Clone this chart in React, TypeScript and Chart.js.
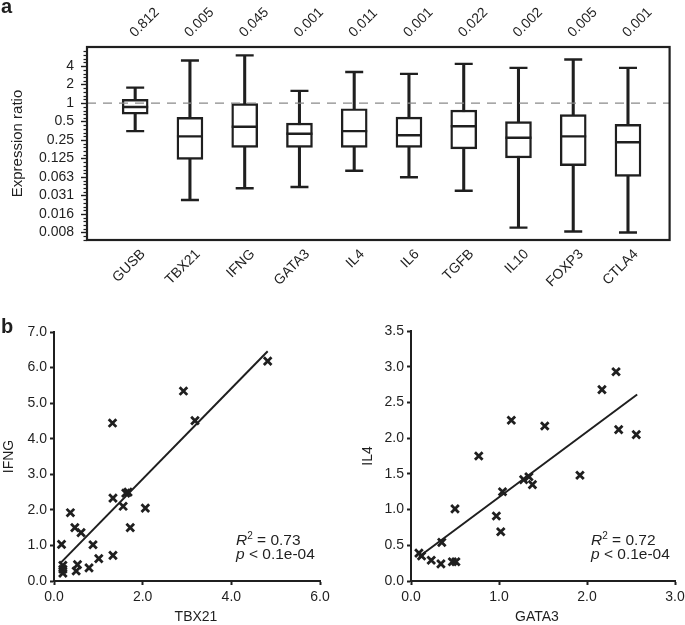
import React, { useEffect, useRef } from 'react';
import { Chart, registerables } from 'chart.js';

Chart.register(...registerables);

const FONT = "'Liberation Sans', Arial, Helvetica, sans-serif";
const INK = '#1f1f1f';
Chart.defaults.font.family = FONT;
Chart.defaults.color = INK;

// ---------- Panel a data ----------
const categories = ['GUSB', 'TBX21', 'IFNG', 'GATA3', 'IL4', 'IL6', 'TGFB', 'IL10', 'FOXP3', 'CTLA4'];
const pValues = ['0.812', '0.005', '0.045', '0.001', '0.011', '0.001', '0.022', '0.002', '0.005', '0.001'];
const whiskerHigh = [1.79, 4.95, 5.98, 1.58, 3.22, 2.99, 4.36, 3.75, 5.14, 3.75];
const quartile3 = [1.15, 0.586, 0.98, 0.473, 0.81, 0.59, 0.77, 0.5, 0.65, 0.45];
const medians = [0.863, 0.287, 0.413, 0.317, 0.35, 0.3, 0.42, 0.273, 0.287, 0.231];
const quartile1 = [0.663, 0.121, 0.19, 0.19, 0.19, 0.19, 0.18, 0.128, 0.096, 0.064];
const whiskerLow = [0.35, 0.0264, 0.041, 0.043, 0.079, 0.062, 0.0375, 0.0094, 0.0081, 0.0078];
const logTickValues = [4, 2, 1, 0.5, 0.25, 0.125, 0.0625, 0.03125, 0.015625, 0.0078125];
const logTickLabels = ['4', '2', '1', '0.5', '0.25', '0.125', '0.063', '0.031', '0.016', '0.008'];
const referenceRatio = 1;

// ---------- Panel b data ----------
const tbx21 = [4.82, 2.92, 3.18, 1.32, 1.67, 1.62, 1.33, 1.56, 2.06, 0.37, 0.47, 0.61, 1.72, 0.17, 0.88, 1.01, 1.33, 0.79, 0.53, 0.5, 0.2, 0.2, 0.2];
const ifng = [6.18, 5.34, 4.51, 4.44, 2.5, 2.47, 2.33, 2.1, 2.05, 1.92, 1.5, 1.36, 1.5, 1.03, 1.02, 0.63, 0.72, 0.37, 0.46, 0.28, 0.44, 0.33, 0.22];
const fitLeftX = [0.15, 4.82];
const fitLeftY = [0.51, 6.46];
const leftXTicks = [0, 2, 4, 6];
const leftYTicks = [0, 1, 2, 3, 4, 5, 6, 7];

const gata3 = [2.33, 2.17, 1.14, 1.52, 2.36, 2.56, 0.77, 1.92, 1.28, 1.34, 1.38, 1.04, 0.5, 0.97, 1.02, 0.35, 0.09, 0.12, 0.23, 0.34, 0.47, 0.51];
const il4 = [2.93, 2.68, 2.25, 2.17, 2.12, 2.05, 1.75, 1.48, 1.42, 1.46, 1.35, 1.25, 1.01, 0.91, 0.69, 0.54, 0.39, 0.35, 0.29, 0.24, 0.27, 0.27];
const fitRightX = [0.09, 2.57];
const fitRightY = [0.34, 2.61];
const rightXTicks = [0, 1, 2, 3];
const rightYTicks = [0, 0.5, 1, 1.5, 2, 2.5, 3, 3.5];

// ---------- Panel a chart ----------
const A_W = 685;
const A_H = 300;
const X_MIN = -0.88;
const X_MAX = 9.76;
const Y_MIN = 0.0059;
const Y_MAX = 8.2;

const framePlugin = {
  id: 'boxFrame',
  afterDraw(chart: any) {
    const { ctx, chartArea } = chart;
    const y = chart.scales.y;
    ctx.save();
    ctx.strokeStyle = INK;
    ctx.lineWidth = 1.2;
    for (let k = -8; k <= 3; k++) {
      for (let j = 1; j <= 4; j++) {
        const v = Math.pow(2, k + j / 5);
        if (v < Y_MIN || v > Y_MAX) continue;
        const py = Math.round(y.getPixelForValue(v)) + 0.5;
        ctx.beginPath();
        ctx.moveTo(chartArea.left - 3.5, py);
        ctx.lineTo(chartArea.left, py);
        ctx.stroke();
      }
    }
    ctx.lineWidth = 2.2;
    ctx.strokeRect(chartArea.left, chartArea.top, chartArea.right - chartArea.left, chartArea.bottom - chartArea.top);
    ctx.restore();
  },
};

function BoxPanel() {
  const ref = useRef<HTMLCanvasElement>(null);
  useEffect(() => {
    const idx = categories.map((_, i) => i);
    const chart = new Chart(ref.current!, {
      type: 'bar',
      data: {
        datasets: [
          {
            type: 'line',
            data: [{ x: X_MIN, y: referenceRatio }, { x: X_MAX, y: referenceRatio }],
            borderColor: '#8a8a8a',
            borderWidth: 1.3,
            borderDash: [9, 7],
            pointRadius: 0,
          } as any,
          {
            type: 'scatter',
            data: idx.map((i) => ({ x: i, y: medians[i] })),
            pointStyle: 'line',
            pointRadius: 13,
            pointBorderWidth: 2.4,
            pointBorderColor: INK,
          } as any,
          {
            type: 'scatter',
            data: idx.map((i) => ({ x: i, y: whiskerHigh[i] })).concat(idx.map((i) => ({ x: i, y: whiskerLow[i] }))),
            pointStyle: 'line',
            pointRadius: 9,
            pointBorderWidth: 2.4,
            pointBorderColor: INK,
          } as any,
          {
            type: 'bar',
            data: idx.map((i) => ({ x: i, y: [quartile1[i], quartile3[i]] })),
            backgroundColor: '#ffffff',
            borderColor: INK,
            borderWidth: 2.4,
            borderSkipped: false,
            barThickness: 26,
            grouped: false,
          } as any,
          {
            type: 'bar',
            data: idx.map((i) => ({ x: i, y: [whiskerLow[i], whiskerHigh[i]] })),
            backgroundColor: INK,
            borderWidth: 0,
            barThickness: 2.4,
            grouped: false,
          } as any,
        ],
      },
      options: {
        animation: false,
        responsive: false,
        events: [],
        layout: { padding: { left: 0, right: A_W - 680, top: 0, bottom: 0 } },
        plugins: { legend: { display: false }, tooltip: { enabled: false } },
        scales: {
          x: {
            type: 'linear',
            position: 'bottom',
            min: X_MIN,
            max: X_MAX,
            offset: false,
            grid: { display: false, drawTicks: false },
            border: { display: false },
            afterBuildTicks: (s: any) => {
              s.ticks = idx.map((i) => ({ value: i }));
            },
            ticks: {
              autoSkip: false,
              minRotation: 45,
              maxRotation: 45,
              padding: 6,
              labelOffset: 8,
              color: INK,
              font: { size: 14 },
              callback: (v: any) => categories[v] ?? '',
            },
            afterFit: (s: any) => {
              s.height = A_H - 240;
              s.paddingLeft = 0;
              s.paddingRight = 0;
            },
          },
          xTop: {
            type: 'linear',
            position: 'top',
            min: X_MIN,
            max: X_MAX,
            offset: false,
            grid: { display: false, drawTicks: false },
            border: { display: false },
            afterBuildTicks: (s: any) => {
              s.ticks = idx.map((i) => ({ value: i }));
            },
            ticks: {
              autoSkip: false,
              minRotation: 45,
              maxRotation: 45,
              padding: 6,
              labelOffset: 9,
              color: INK,
              font: { size: 14 },
              callback: (v: any) => pValues[v] ?? '',
            },
            afterFit: (s: any) => {
              s.height = 47;
              s.paddingLeft = 0;
              s.paddingRight = 0;
            },
          },
          y: {
            type: 'logarithmic',
            position: 'left',
            min: Y_MIN,
            max: Y_MAX,
            grid: { display: true, drawOnChartArea: false, drawTicks: true, tickLength: 6, tickWidth: 1.4, tickColor: INK },
            border: { display: false },
            afterBuildTicks: (s: any) => {
              s.ticks = logTickValues.map((v) => ({ value: v }));
            },
            ticks: {
              autoSkip: false,
              padding: 7,
              color: INK,
              font: { size: 14 },
              callback: (v: any) => {
                const i = logTickValues.findIndex((t) => Math.abs(t - v) < t * 1e-6);
                return i >= 0 ? logTickLabels[i] : '';
              },
            },
            title: { display: true, text: 'Expression ratio', color: INK, font: { size: 15 }, padding: { top: 9, bottom: 0 } },
            afterFit: (s: any) => {
              s.width = 87;
              s.paddingTop = 0;
              s.paddingBottom = 0;
            },
          },
        },
      } as any,
      plugins: [framePlugin],
    });
    return () => chart.destroy();
  }, []);
  return <canvas ref={ref} width={A_W} height={A_H} style={{ position: 'absolute', left: 0, top: 0, width: A_W, height: A_H }} />;
}

// ---------- Panel b chart ----------
type ScatterProps = {
  left: number;
  top: number;
  width: number;
  height: number;
  xs: number[];
  ys: number[];
  fitX: number[];
  fitY: number[];
  xTicks: number[];
  yTicks: number[];
  yTitle: string;
  axisLeft: number;
  padTop: number;
  padRight: number;
  axisBottom: number;
  yTitlePad: number;
};

function ScatterPanel(p: ScatterProps) {
  const ref = useRef<HTMLCanvasElement>(null);
  useEffect(() => {
    const chart = new Chart(ref.current!, {
      type: 'scatter',
      data: {
        datasets: [
          {
            type: 'line',
            data: p.fitX.map((x, i) => ({ x, y: p.fitY[i] })),
            borderColor: INK,
            borderWidth: 2,
            pointRadius: 0,
          } as any,
          {
            type: 'scatter',
            data: p.xs.map((x, i) => ({ x, y: p.ys[i] })),
            pointStyle: 'crossRot',
            pointRadius: 5.4,
            pointBorderWidth: 2.8,
            pointBorderColor: INK,
            pointBackgroundColor: INK,
          } as any,
        ],
      },
      options: {
        animation: false,
        responsive: false,
        events: [],
        layout: { padding: { left: 0, right: p.padRight, top: p.padTop, bottom: 0 } },
        plugins: { legend: { display: false }, tooltip: { enabled: false } },
        scales: {
          x: {
            type: 'linear',
            min: p.xTicks[0],
            max: p.xTicks[p.xTicks.length - 1],
            grid: { display: true, drawOnChartArea: false, drawTicks: true, tickLength: 4, tickWidth: 2, tickColor: INK },
            border: { display: true, color: INK, width: 2 },
            afterBuildTicks: (s: any) => {
              s.ticks = p.xTicks.map((v) => ({ value: v }));
            },
            ticks: { autoSkip: false, maxRotation: 0, padding: 4, color: INK, font: { size: 14 }, callback: (v: any) => Number(v).toFixed(1) },
            afterFit: (s: any) => {
              s.height = p.height - p.axisBottom;
              s.paddingLeft = 0;
              s.paddingRight = 0;
            },
          },
          y: {
            type: 'linear',
            min: p.yTicks[0],
            max: p.yTicks[p.yTicks.length - 1],
            grid: { display: true, drawOnChartArea: false, drawTicks: true, tickLength: 4, tickWidth: 2, tickColor: INK },
            border: { display: true, color: INK, width: 2 },
            afterBuildTicks: (s: any) => {
              s.ticks = p.yTicks.map((v) => ({ value: v }));
            },
            ticks: { autoSkip: false, padding: 3, color: INK, font: { size: 14 }, callback: (v: any) => Number(v).toFixed(1) },
            title: { display: true, text: p.yTitle, color: INK, font: { size: 14 }, padding: { top: p.yTitlePad, bottom: 0 } },
            afterFit: (s: any) => {
              s.width = p.axisLeft;
              s.paddingTop = 0;
              s.paddingBottom = 0;
            },
          },
        },
      } as any,
    });
    return () => chart.destroy();
  }, []);
  return (
    <canvas
      ref={ref}
      width={p.width}
      height={p.height}
      style={{ position: 'absolute', left: p.left, top: p.top, width: p.width, height: p.height }}
    />
  );
}

function Stat({ left, top, r2 }: { left: number; top: number; r2: string }) {
  const line: React.CSSProperties = { position: 'absolute', left: 0, whiteSpace: 'nowrap', fontSize: 15.5, lineHeight: '15px', color: INK };
  return (
    <div style={{ position: 'absolute', left, top, fontFamily: FONT }}>
      <div style={{ ...line, top: 0 }}>
        <i>R</i>
        <span style={{ fontSize: 10, position: 'relative', top: -6 }}>2</span> = {r2}
      </div>
      <div style={{ ...line, top: 14 }}>
        <i>p</i> &lt; 0.1e-04
      </div>
    </div>
  );
}

function AxisTitle({ center, text }: { center: number; text: string }) {
  return (
    <div
      style={{
        position: 'absolute',
        left: center - 60,
        width: 120,
        top: 608,
        textAlign: 'center',
        fontFamily: FONT,
        fontSize: 14,
        lineHeight: '17px',
        color: INK,
      }}
    >
      {text}
    </div>
  );
}

export default function App() {
  const panelLabel: React.CSSProperties = {
    position: 'absolute',
    fontFamily: FONT,
    fontWeight: 'bold',
    fontSize: 20,
    lineHeight: '20px',
    color: INK,
  };
  return (
    <div style={{ position: 'fixed', left: 0, top: 0, width: 685, height: 625, background: '#fff', overflow: 'hidden' }}>
      <BoxPanel />
      <ScatterPanel
        left={0}
        top={300}
        width={340}
        height={325}
        xs={tbx21}
        ys={ifng}
        fitX={fitLeftX}
        fitY={fitLeftY}
        xTicks={leftXTicks}
        yTicks={leftYTicks}
        yTitle="IFNG"
        axisLeft={54}
        padTop={32}
        padRight={20}
        axisBottom={281}
        yTitlePad={1}
      />
      <ScatterPanel
        left={340}
        top={300}
        width={345}
        height={325}
        xs={gata3}
        ys={il4}
        fitX={fitRightX}
        fitY={fitRightY}
        xTicks={rightXTicks}
        yTicks={rightYTicks}
        yTitle="IL4"
        axisLeft={71}
        padTop={31}
        padRight={10}
        axisBottom={281}
        yTitlePad={20}
      />
      <AxisTitle center={196} text="TBX21" />
      <AxisTitle center={537} text="GATA3" />
      <Stat left={236} top={532} r2="0.73" />
      <Stat left={591} top={532} r2="0.72" />
      <div style={{ ...panelLabel, left: 1, top: -4 }}>a</div>
      <div style={{ ...panelLabel, left: 1, top: 316 }}>b</div>
    </div>
  );
}
